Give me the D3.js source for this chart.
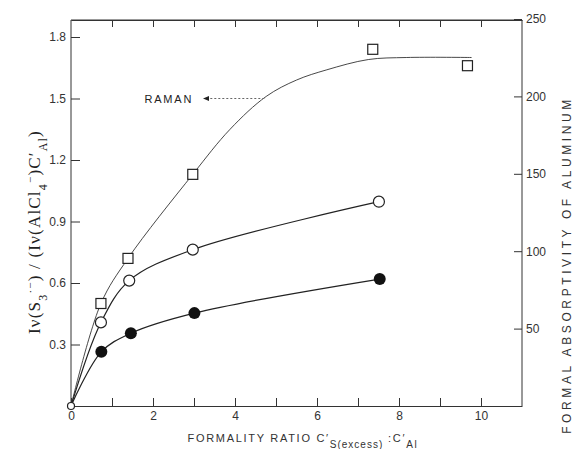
<!DOCTYPE html>
<html>
<head>
<meta charset="utf-8">
<script src="https://cdn.jsdelivr.net/npm/d3@7"></script>
<style>
  body { margin: 0; background: #fff; }
  svg { display: block; }
  .axis path, .axis line { stroke: #333; stroke-width: 1; }
  .axis text { font-family: "Liberation Sans", Arial, sans-serif; font-size: 12px; fill: #333; }
</style>
</head>
<body>
<svg width="576" height="449"></svg>
<script>
// data
const xTicks = [0, 2, 4, 6, 8, 10];
const leftTicks = [0.3, 0.6, 0.9, 1.2, 1.5, 1.8];
const rightTicks = [50, 100, 150, 200, 250];

// Raman intensity ratio (left axis)
const ramanX = [0.73, 1.39, 2.97, 7.36, 9.67];
const ramanY = [0.50, 0.72, 1.13, 1.74, 1.66];
// smooth fit drawn through the Raman points
const ramanFitX = [0, 0.73, 1.39, 2.97, 3.88, 4.76, 5.50, 6.24, 7.25, 8.19, 9.77];
const ramanFitY = [0, 0.50, 0.72, 1.13, 1.35, 1.51, 1.59, 1.64, 1.69, 1.70, 1.70];

// absorptivity (right axis)
const openX = [0, 0.73, 1.42, 2.97, 7.51];
const openY = [0, 54, 81, 101, 132];
const filledX = [0, 0.74, 1.46, 3.01, 7.53];
const filledY = [0, 35, 47, 60, 82];

const svg = d3.select('svg');
const x = d3.scaleLinear().domain([0, 11]).range([71, 522]);
const yL = d3.scaleLinear().domain([0, 1.8]).range([406, 37]);
const yR = d3.scaleLinear().domain([0, 250]).range([406, 19]);
const frameTop = 20;

// frame
svg.append('line').attr('x1', x(0)).attr('x2', x(11)).attr('y1', frameTop).attr('y2', frameTop)
  .attr('stroke', '#333');

svg.append('g').attr('class', 'axis')
  .attr('transform', 'translate(0,' + frameTop + ')')
  .call(d3.axisTop(x).tickValues(d3.range(1, 11)).tickSizeInner(-7).tickSizeOuter(0).tickFormat(''));

svg.append('g').attr('class', 'axis')
  .attr('transform', 'translate(0,406)')
  .call(d3.axisBottom(x).tickValues(d3.range(0, 11)).tickSizeInner(-8).tickSizeOuter(0).tickPadding(5)
    .tickFormat(d => xTicks.includes(d) ? d : ''));

const gl = svg.append('g').attr('class', 'axis')
  .attr('transform', 'translate(' + x(0) + ',0)')
  .call(d3.axisLeft(yL).tickValues(leftTicks).tickSizeInner(-9).tickSizeOuter(0).tickPadding(5)
    .tickFormat(d3.format('.1f')));
gl.select('.domain').attr('d', 'M0,' + frameTop + 'V406');

const gr = svg.append('g').attr('class', 'axis')
  .attr('transform', 'translate(' + x(11) + ',0)')
  .call(d3.axisRight(yR).tickValues(rightTicks).tickSizeInner(-8).tickSizeOuter(0).tickPadding(4));
gr.select('.domain').attr('d', 'M0,' + frameTop + 'V406');

// curves
const line = (sx, sy) => d3.line().x(d => sx(d[0])).y(d => sy(d[1])).curve(d3.curveCatmullRom.alpha(0.5));

svg.append('path')
  .datum(ramanFitX.map((v, i) => [v, ramanFitY[i]]))
  .attr('fill', 'none').attr('stroke', '#333').attr('stroke-width', 0.9)
  .attr('d', line(x, yL));

svg.append('path')
  .datum(openX.map((v, i) => [v, openY[i]]))
  .attr('fill', 'none').attr('stroke', '#222').attr('stroke-width', 1.2)
  .attr('d', line(x, yR));

svg.append('path')
  .datum(filledX.map((v, i) => [v, filledY[i]]))
  .attr('fill', 'none').attr('stroke', '#222').attr('stroke-width', 1.2)
  .attr('d', line(x, yR));

// markers
svg.selectAll('rect.raman')
  .data(ramanX.map((v, i) => [v, ramanY[i]]))
  .join('rect').attr('class', 'raman')
  .attr('x', d => x(d[0]) - 5).attr('y', d => yL(d[1]) - 5)
  .attr('width', 10).attr('height', 10)
  .attr('fill', '#fff').attr('stroke', '#222').attr('stroke-width', 1.2);

svg.selectAll('circle.open')
  .data(openX.map((v, i) => [v, openY[i]]))
  .join('circle').attr('class', 'open')
  .attr('cx', d => x(d[0])).attr('cy', d => yR(d[1]))
  .attr('r', (d, i) => i === 0 ? 3.5 : 5.5)
  .attr('fill', '#fff').attr('stroke', '#222').attr('stroke-width', 1.2);

svg.selectAll('circle.filled')
  .data(filledX.slice(1).map((v, i) => [v, filledY[i + 1]]))
  .join('circle').attr('class', 'filled')
  .attr('cx', d => x(d[0])).attr('cy', d => yR(d[1]))
  .attr('r', 6)
  .attr('fill', '#111');

// RAMAN annotation
svg.append('text')
  .attr('x', x(2.98)).attr('y', yL(1.5) + 4)
  .attr('text-anchor', 'end')
  .attr('font-family', 'Liberation Sans, Arial, sans-serif').attr('font-size', 11)
  .attr('letter-spacing', 1.8).attr('fill', '#222')
  .text('RAMAN');
svg.append('line')
  .attr('x1', x(3.3)).attr('x2', x(4.74)).attr('y1', yL(1.5)).attr('y2', yL(1.5))
  .attr('stroke', '#666').attr('stroke-width', 1).attr('stroke-dasharray', '2,2');
svg.append('path')
  .attr('d', 'M' + x(3.22) + ',' + yL(1.5) + 'l6,-2.5v5z')
  .attr('fill', '#222');

// axis titles
const xt = svg.append('text')
  .attr('x', 303).attr('y', 442).attr('text-anchor', 'middle')
  .attr('font-family', 'Liberation Sans, Arial, sans-serif').attr('font-size', 11)
  .attr('letter-spacing', 1.7).attr('fill', '#333');
xt.append('tspan').text('FORMALITY  RATIO  C\u2032');
xt.append('tspan').attr('baseline-shift', 'sub').attr('font-size', 10).attr('letter-spacing', 1).text('S(excess)');
xt.append('tspan').text(' :C\u2032');
xt.append('tspan').attr('baseline-shift', 'sub').attr('font-size', 10).text('Al');

const yt = svg.append('text')
  .attr('transform', 'translate(40,232) rotate(-90)').attr('text-anchor', 'middle')
  .attr('font-family', 'Liberation Serif, serif').attr('font-size', 17)
  .attr('letter-spacing', 1.2).attr('fill', '#222');
yt.append('tspan').text('I\u03bd(S');
yt.append('tspan').attr('baseline-shift', 'sub').attr('font-size', 12).text('3');
yt.append('tspan').attr('baseline-shift', 'super').attr('font-size', 11).text('\u00b7\u2212');
yt.append('tspan').text(') / (I\u03bd(AlCl');
yt.append('tspan').attr('baseline-shift', 'sub').attr('font-size', 12).text('4');
yt.append('tspan').attr('baseline-shift', 'super').attr('font-size', 11).text('\u2212');
yt.append('tspan').text(')C\u2032');
yt.append('tspan').attr('baseline-shift', 'sub').attr('font-size', 12).text('Al');
yt.append('tspan').text(')');

svg.append('text')
  .attr('transform', 'translate(571,265) rotate(-90)').attr('text-anchor', 'middle')
  .attr('font-family', 'Liberation Sans, Arial, sans-serif').attr('font-size', 12)
  .attr('letter-spacing', 3.6).attr('fill', '#333')
  .text('FORMAL  ABSORPTIVITY  OF  ALUMINUM');
</script>
</body>
</html>
